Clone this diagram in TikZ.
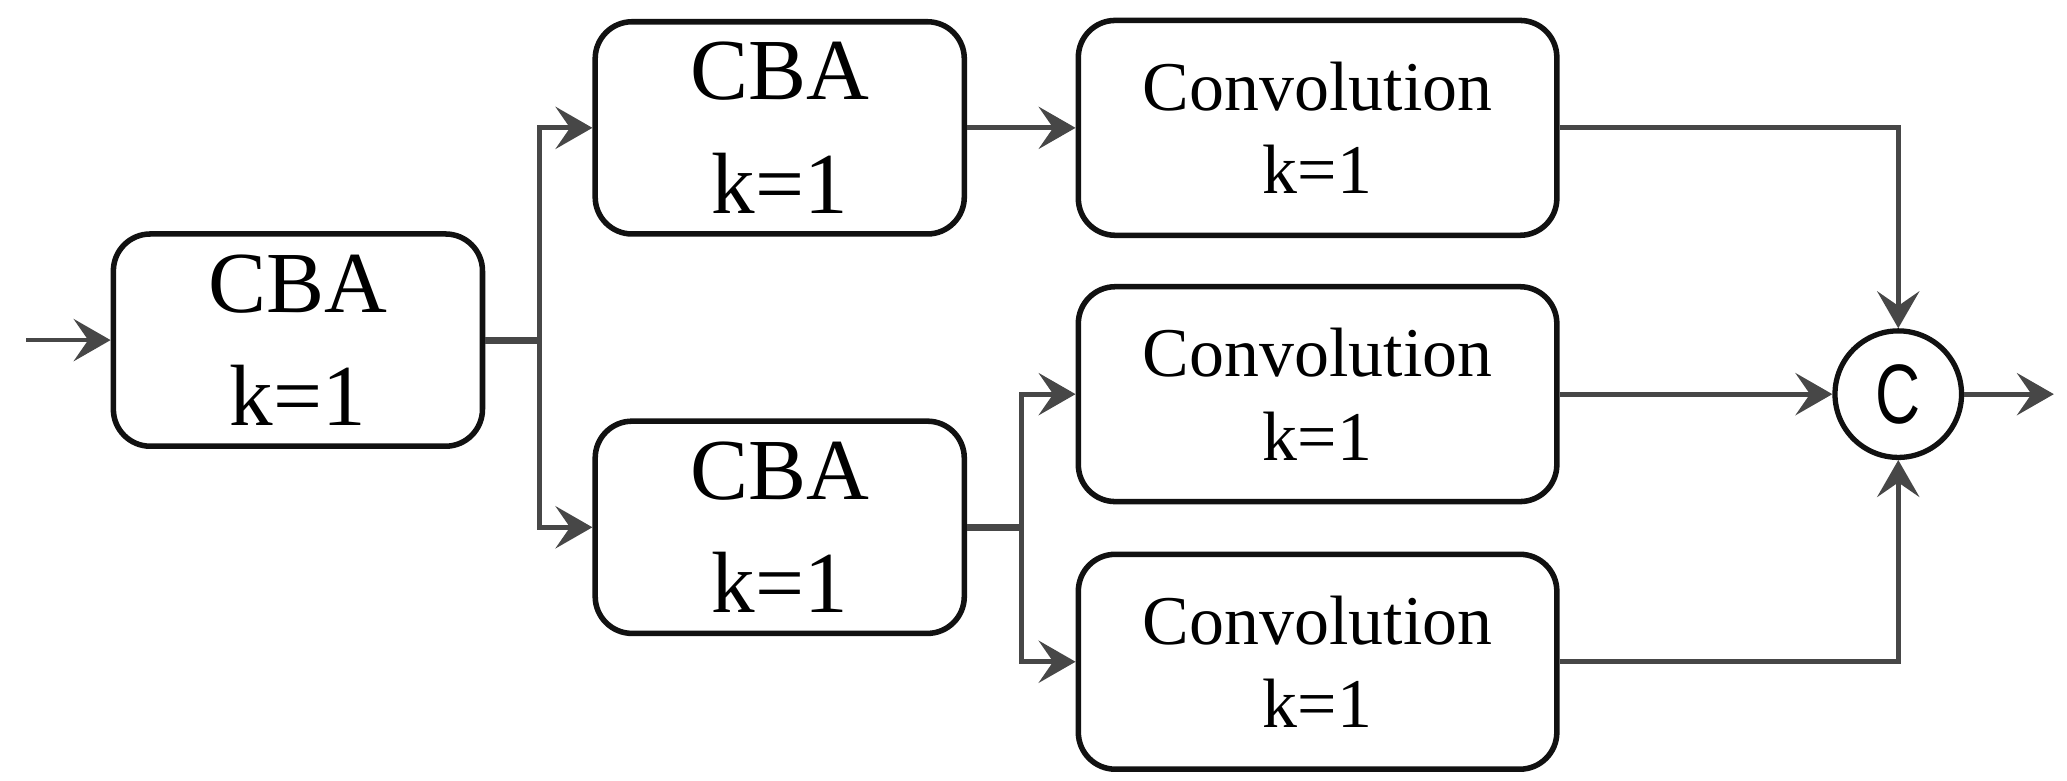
\documentclass[tikz,border=0pt]{standalone}
\usepackage{fontspec}
\setmainfont{Liberation Serif}
\newfontfamily\circfont{Liberation Sans}
\usetikzlibrary{arrows.meta}
\definecolor{conn}{HTML}{474747}
\definecolor{edge}{HTML}{111111}
\begin{document}
\begin{tikzpicture}[x=0.5pt,y=-0.5pt,
  cbabox/.style={draw=edge,line width=2.1pt,rounded corners=14pt,minimum width=140pt,minimum height=80.5pt,align=center,inner sep=0pt,font=\fontsize{33}{43}\selectfont},
  convbox/.style={draw=edge,line width=2.1pt,rounded corners=14pt,minimum width=181.5pt,minimum height=81.5pt,align=center,inner sep=0pt,font=\fontsize{26.5}{31.75}\selectfont},
  catnode/.style={draw=edge,line width=2pt,circle,minimum size=48pt,inner sep=0pt,font=\circfont\fontsize{32}{32}\selectfont},
  conn/.style={draw=conn,line width=1.8pt},
  arr/.style={conn,-{Stealth[length=14pt,width=16pt,inset=5.5pt]}}
]
\useasboundingbox (0,0) rectangle (1568,592);
\node[cbabox] (b1) at (226,258) {CBA\\k=1};
\node[cbabox] (b2) at (591.5,97) {CBA\\k=1};
\node[cbabox] (b3) at (591.5,400) {CBA\\k=1};
\node[convbox] (c1) at (999.5,97) {Convolution\\k=1};
\node[convbox] (c2) at (999.5,299) {Convolution\\k=1};
\node[convbox] (c3) at (999.5,502) {Convolution\\k=1};
\node[catnode] (cat) at (1440,299) {\scalebox{0.74}[1]{C}};
\coordinate (in) at (20,258);
\coordinate (j1) at (409,258);
\coordinate (j2) at (775,400);
\coordinate (out) at (1558,299);
\draw[arr] (in) -- (b1.west);
\draw[conn,line width=2.6pt] (b1.east) -- (j1);
\draw[arr] (j1) |- (b2.west);
\draw[arr] (j1) |- (b3.west);
\draw[arr] (b2.east) -- (c1.west);
\draw[conn,line width=2.6pt] (b3.east) -- (j2);
\draw[arr] (j2) |- (c2.west);
\draw[arr] (j2) |- (c3.west);
\draw[arr] (c1.east) -| (cat.north);
\draw[arr] (c2.east) -- (cat.west);
\draw[arr] (c3.east) -| (cat.south);
\draw[arr] (cat.east) -- (out);
\end{tikzpicture}
\end{document}
